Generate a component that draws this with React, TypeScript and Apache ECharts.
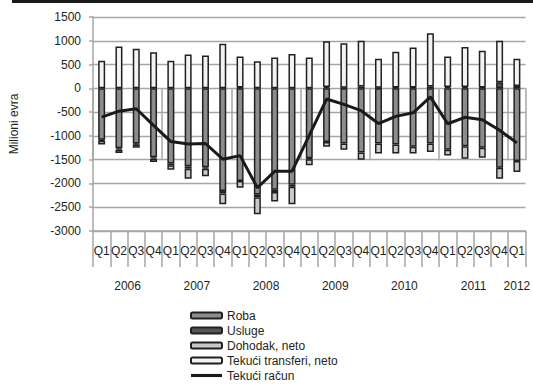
import { useEffect, useRef } from "react";
import * as echarts from "echarts";

// Quarterly current account of the balance of payments, million EUR
const quarters = [
  "Q1", "Q2", "Q3", "Q4",
  "Q1", "Q2", "Q3", "Q4",
  "Q1", "Q2", "Q3", "Q4",
  "Q1", "Q2", "Q3", "Q4",
  "Q1", "Q2", "Q3", "Q4",
  "Q1", "Q2", "Q3", "Q4",
  "Q1",
];
const years = ["2006", "2007", "2008", "2009", "2010", "2011", "2012"];
const quartersPerYear = [4, 4, 4, 4, 4, 4, 1];

const roba = [
  -1080, -1260, -1160, -1450, -1580, -1640, -1660, -2160, -1950, -2230, -2130, -2030,
  -1470, -1130, -1160, -1350, -1160, -1180, -1230, -1160, -1290, -1220, -1250, -1670,
  -1530,
];
const usluge = [
  -20, -30, -20, -30, -40, -50, -30, -50, 20, -60, -50, -40,
  -20, 30, 10, 40, 10, 20, 20, 40, 30, 30, 20, 130,
  50,
];
const dohodak = [
  -80, -70, -70, -70, -90, -210, -160, -230, -140, -360, -200, -370,
  -130, -100, -130, -150, -210, -190, -140, -180, -120, -260, -210, -230,
  -230,
];
const transferi = [
  580, 880, 830, 760, 580, 710, 690, 940, 650, 570, 650, 720,
  650, 960, 940, 960, 610, 750, 840, 1120, 640, 840, 770, 870,
  570,
];
const tekuciRacun = [
  -605, -480, -430, -780, -1120, -1170, -1160, -1490, -1415, -2090, -1745, -1745,
  -990, -225, -338, -470, -740, -590, -515, -180, -745, -610, -660, -880,
  -1147,
];

const FONT = "'Liberation Sans', Arial, sans-serif";
const TEXT = "#231f20";
const GRID = "#a6a6a6";
const BORDER = "#231f20";

export default function App() {
  const ref = useRef<HTMLDivElement>(null);

  useEffect(() => {
    const chart = echarts.init(ref.current!, null, { renderer: "svg" });

    // year group boundaries and centres on a 0..N scale of quarters
    const bounds: number[] = [0];
    quartersPerYear.forEach((n) => bounds.push(bounds[bounds.length - 1] + n));
    const centers = years.map((_, i) => (bounds[i] + bounds[i + 1]) / 2);

    const barStyle = (color: string) => ({
      color,
      borderColor: BORDER,
      borderWidth: 1.5,
    });

    chart.setOption({
      animation: false,
      textStyle: { fontFamily: FONT, color: TEXT },
      graphic: [
        {
          type: "rect",
          shape: { x: 12, y: 0, width: 521, height: 3 },
          style: { fill: "#1a1a1a" },
        },
      ],
      grid: { left: 81, right: 6, top: 17, bottom: 155, containLabel: false },
      legend: {
        orient: "vertical",
        left: 190,
        top: 309,
        padding: 0,
        height: 77,
        itemWidth: 31,
        itemHeight: 6,
        itemGap: 2,
        textStyle: { fontFamily: FONT, fontSize: 12, color: TEXT, lineHeight: 13 },
        data: [
          "Roba",
          "Usluge",
          "Dohodak, neto",
          "Tekući transferi, neto",
          { name: "Tekući račun", icon: "path://M0,0L30,0L30,3L0,3Z" },
        ],
      },
      xAxis: [
        {
          type: "category",
          data: quarters,
          position: "bottom",
          axisLine: { onZero: false, lineStyle: { color: GRID, width: 1.5 } },
          axisTick: { show: true, interval: 0, length: 36, lineStyle: { color: GRID, width: 1.5 } },
          axisLabel: { interval: 0, margin: 14, fontSize: 12, color: TEXT, fontFamily: FONT },
          splitLine: { show: false },
        },
        {
          type: "value",
          min: 0,
          max: bounds[bounds.length - 1],
          position: "bottom",
          axisLine: { show: false },
          splitLine: { show: false },
          axisTick: {
            show: true,
            customValues: bounds,
            length: 72,
            lineStyle: { color: GRID, width: 1.5 },
          },
          axisLabel: {
            customValues: centers,
            margin: 49,
            fontSize: 12,
            color: TEXT,
            fontFamily: FONT,
            formatter: (v: number) => {
              const i = centers.findIndex((c) => Math.abs(c - v) < 1e-6);
              return i >= 0 ? years[i] : "";
            },
          },
        },
      ],
      yAxis: {
        type: "value",
        min: -3000,
        max: 1500,
        interval: 500,
        name: "Milioni evra",
        nameLocation: "middle",
        nameGap: 73,
        nameTextStyle: { fontSize: 12, color: TEXT, fontFamily: FONT },
        axisLine: { show: true, lineStyle: { color: GRID, width: 1.5 } },
        axisTick: { show: true, length: 4, lineStyle: { color: GRID, width: 1.5 } },
        axisLabel: {
          fontSize: 12,
          color: TEXT,
          margin: 12,
          fontFamily: FONT,
          formatter: (v: number) => String(v),
        },
        splitLine: { show: true, lineStyle: { color: GRID, width: 1.3 } },
      },
      series: [
        { name: "Roba", type: "bar", stack: "tr", barWidth: 7, data: roba, itemStyle: barStyle("#8c8c8c") },
        { name: "Usluge", type: "bar", stack: "tr", barWidth: 7, data: usluge, itemStyle: barStyle("#555555") },
        { name: "Dohodak, neto", type: "bar", stack: "tr", barWidth: 7, data: dohodak, itemStyle: barStyle("#c8c8c8") },
        {
          name: "Tekući transferi, neto",
          type: "bar",
          stack: "tr",
          barWidth: 7,
          data: transferi,
          itemStyle: barStyle("#f3f3f3"),
        },
        {
          name: "Tekući račun",
          type: "line",
          data: tekuciRacun,
          symbol: "none",
          z: 5,
          lineStyle: { color: "#1a1a1a", width: 3 },
          itemStyle: { color: "#1a1a1a" },
        },
      ],
    });

    return () => chart.dispose();
  }, []);

  return (
    <div
      ref={ref}
      style={{ position: "absolute", left: 0, top: 0, width: 533, height: 386 }}
    />
  );
}
